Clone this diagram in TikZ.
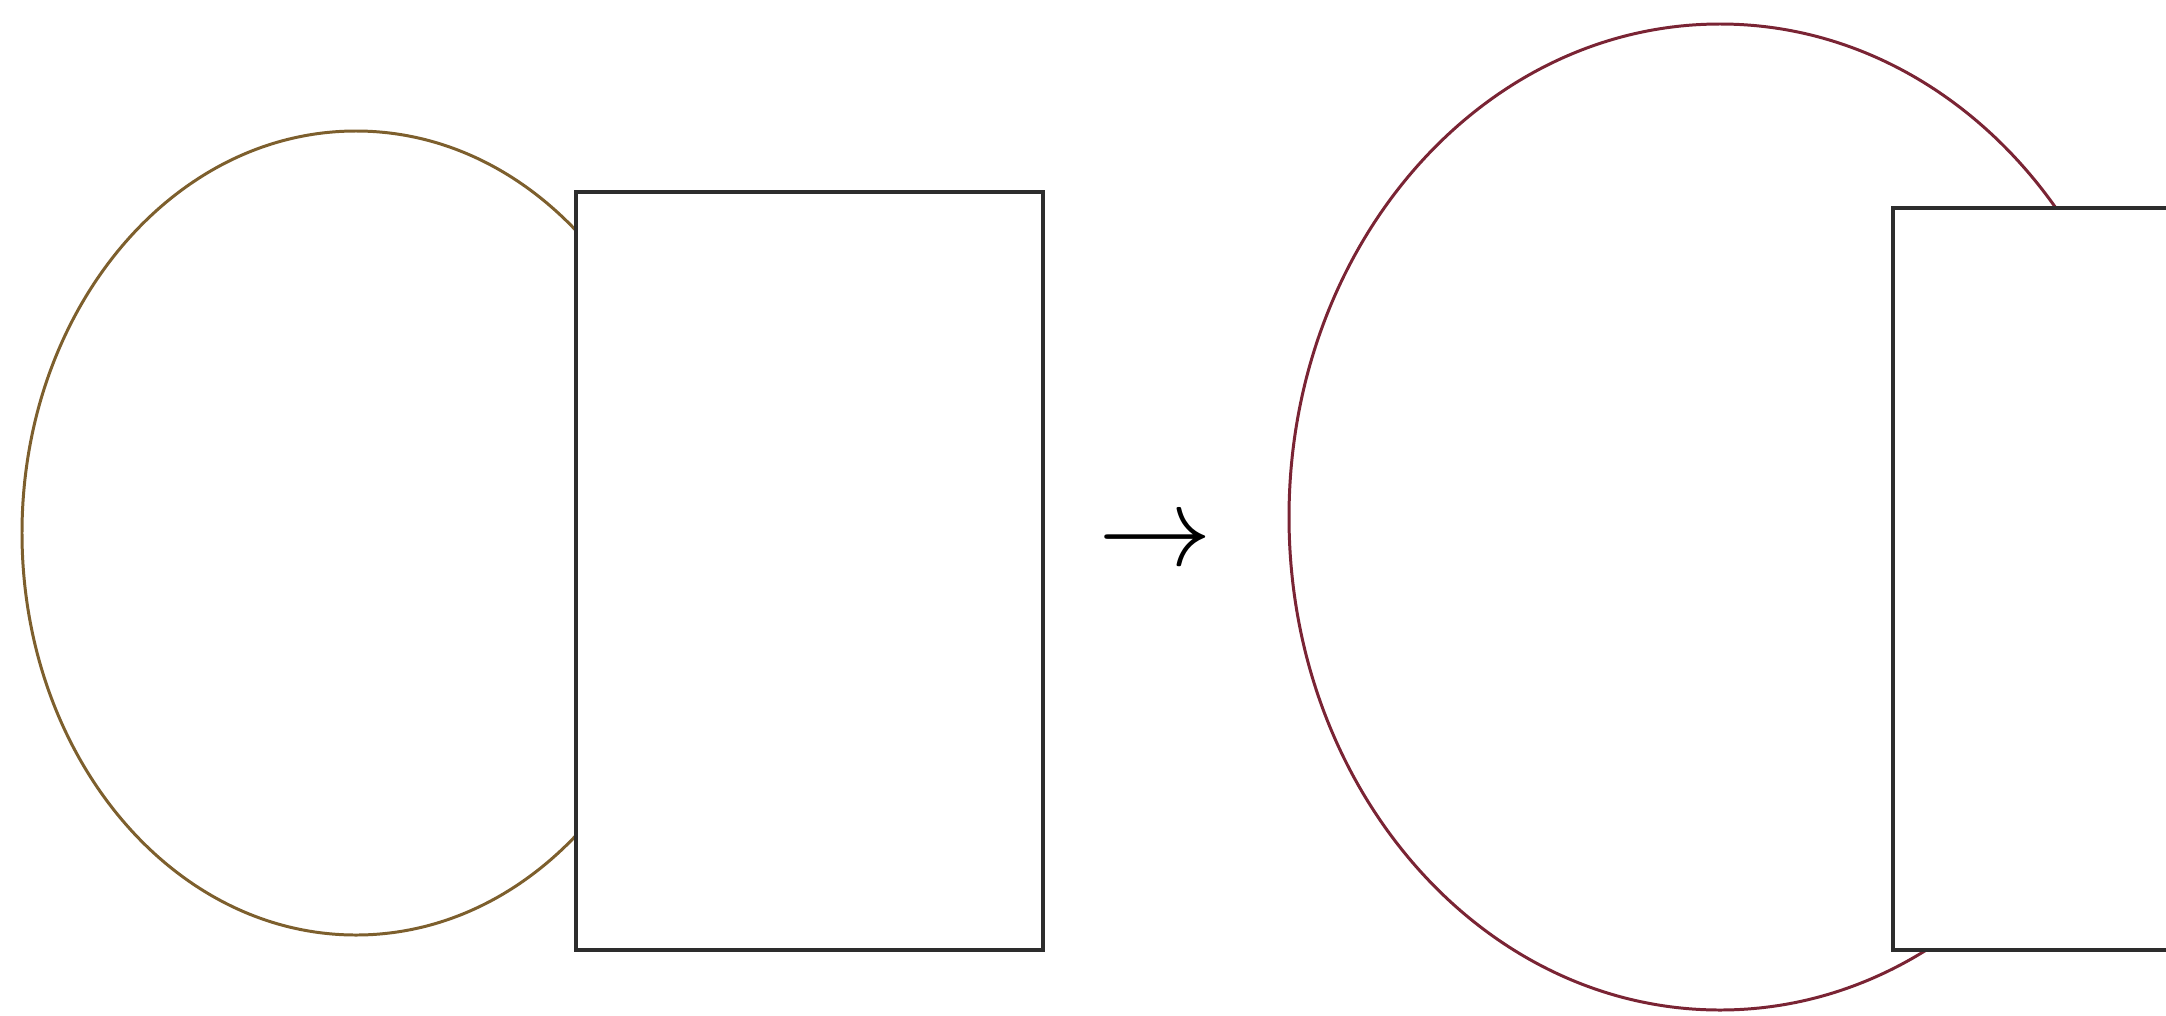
\documentclass[tikz,border=0pt]{standalone}
\usepackage{graphicx}
\usetikzlibrary{shapes.geometric}
\definecolor{oldring}{RGB}{125,95,45}
\definecolor{newring}{RGB}{122,36,52}
\definecolor{boxline}{RGB}{45,45,45}
\begin{document}
\begin{tikzpicture}[
  ring/.style={draw, ellipse, inner sep=0pt, line width=0.85pt},
  panel/.style={draw=boxline, fill=white, rectangle, inner sep=0pt, line width=1.4pt}]
\useasboundingbox[fill=white] (0,0) rectangle (21.66,10.15);
\clip (0,0) rectangle (21.66,10.15);
\node[ring, draw=oldring, minimum width=6.68cm, minimum height=8.04cm] (Eold) at (3.56,4.82) {};
\node[panel, minimum width=4.67cm, minimum height=7.58cm] (Rold) at (8.095,4.44) {};
\node[font=\fontsize{24}{28}\selectfont] (arr) at (11.55,4.70) {\scalebox{1.3}{$\rightarrow$}};
\node[ring, draw=newring, minimum width=8.62cm, minimum height=9.86cm] (Enew) at (17.20,4.98) {};
\node[panel, minimum width=3.57cm, minimum height=7.42cm] (Rnew) at (20.715,4.36) {};
\end{tikzpicture}
\end{document}
